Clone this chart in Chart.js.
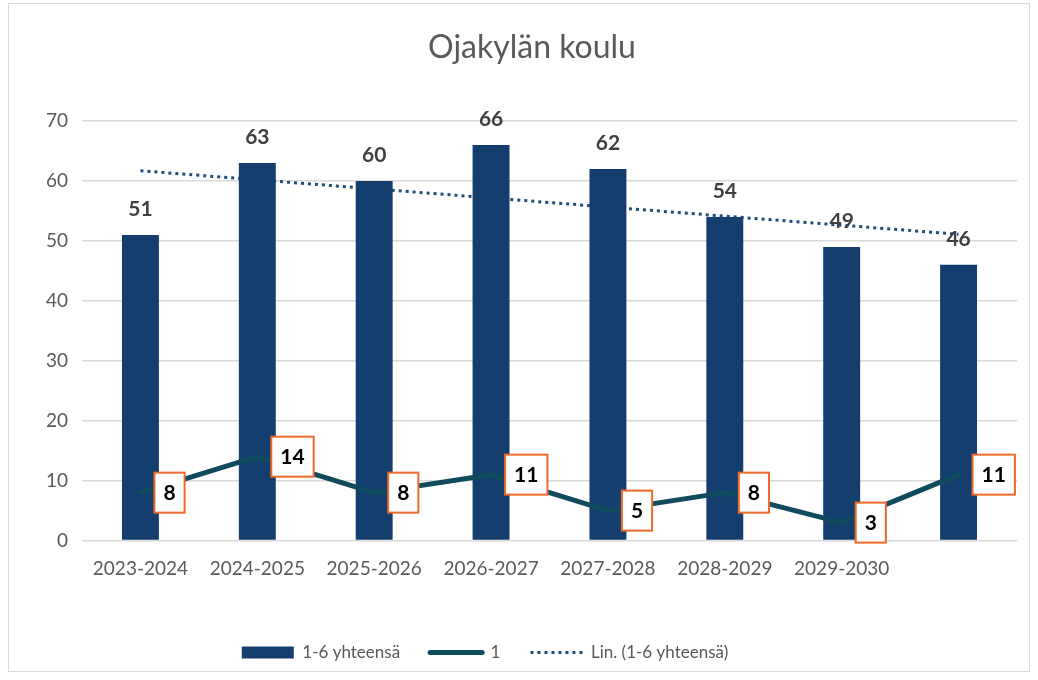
<!DOCTYPE html>
<html>
<head>
<meta charset="utf-8">
<script src="https://cdn.jsdelivr.net/npm/chart.js@4"></script>
<style>
  html, body { margin: 0; padding: 0; background: #fff; }
  #frame { position: absolute; left: 8px; top: 3px; width: 1020px; height: 667px; border: 1px solid #d9d9d9; }
  canvas { display: block; }
</style>
</head>
<body>
<div id="frame"><canvas id="chart" width="1020" height="667"></canvas></div>
<script>
// School years (last category has no label in the original)
const schoolYears = ['2023-2024', '2024-2025', '2025-2026', '2026-2027', '2027-2028', '2028-2029', '2029-2030', ''];
// Pupils in grades 1-6 total
const totals = [51, 63, 60, 66, 62, 54, 49, 46];
// Pupils in grade 1
const firstGrade = [8, 14, 8, 11, 5, 8, 3, 11];
// Linear trend of the totals, end points
const trendValues = [61.7, null, null, null, null, null, null, 51.1];
const yTicks = [0, 10, 20, 30, 40, 50, 60, 70];

const FONT = 'Lato, "Open Sans", sans-serif';
const BAR_COLOR = '#143e6d';
const LINE_COLOR = '#0f4b5c';
const TREND_COLOR = '#1f4e79';
const BOX_COLOR = '#ee6a2a';
const TEXT_GRAY = '#595959';

// Data labels: above bars, boxed to the right of the line points
const valueLabels = {
    id: 'valueLabels',
    afterDatasetsDraw(chart) {
        const ctx = chart.ctx;
        ctx.save();
        ctx.font = 'bold 21px ' + FONT;
        ctx.textAlign = 'center';
        ctx.textBaseline = 'middle';

        ctx.fillStyle = '#404040';
        chart.getDatasetMeta(0).data.forEach((bar, i) => {
            ctx.fillText(String(totals[i]), bar.x, bar.y - 26);
        });

        chart.getDatasetMeta(1).data.forEach((pt, i) => {
            const text = String(firstGrade[i]);
            const w = ctx.measureText(text).width + 18;
            const h = 40;
            const x = pt.x + 14;
            const y = pt.y - h / 2;
            ctx.fillStyle = '#fff';
            ctx.fillRect(x, y, w, h);
            ctx.strokeStyle = BOX_COLOR;
            ctx.lineWidth = 2;
            ctx.strokeRect(x, y, w, h);
            ctx.fillStyle = '#000';
            ctx.fillText(text, x + w / 2, pt.y + 1);
        });
        ctx.restore();
    }
};

// Title sits a bit right and the legend a bit left, like in the original
const blockShift = {
    id: 'blockShift',
    afterLayout(chart) {
        chart.titleBlock.left += 14;
        chart.titleBlock.right += 14;
        chart.legend.left -= 33;
        chart.legend.right -= 33;
    }
};

const ctx = document.getElementById('chart').getContext('2d');

new Chart(ctx, {
    data: {
        labels: schoolYears,
        datasets: [
            {
                type: 'bar',
                label: '1-6 yhteensä',
                data: totals,
                backgroundColor: BAR_COLOR,
                categoryPercentage: 1,
                barPercentage: 0.316,
                order: 2,
            },
            {
                type: 'line',
                label: '1',
                data: firstGrade,
                borderColor: LINE_COLOR,
                borderWidth: 5,
                borderJoinStyle: 'round',
                borderCapStyle: 'round',
                pointRadius: 0,
                tension: 0,
                order: 1,
            },
            {
                type: 'line',
                label: 'Lin. (1-6 yhteensä)',
                data: trendValues,
                spanGaps: true,
                borderColor: TREND_COLOR,
                borderWidth: 3,
                borderDash: [3, 4],
                pointRadius: 0,
                order: 3,
            },
        ],
    },
    options: {
        responsive: false,
        animation: false,
        layout: { padding: { left: 10, right: 12, top: 0, bottom: 0 } },
        scales: {
            x: {
                grid: { display: false },
                border: { display: false },
                ticks: { color: TEXT_GRAY, font: { family: FONT, size: 19 }, padding: 9, maxRotation: 0 },
                afterFit(scale) { scale.height = 73.4; },
            },
            y: {
                min: 0,
                max: 70,
                afterBuildTicks(scale) { scale.ticks = yTicks.map(v => ({ value: v })); },
                grid: { color: '#d9d9d9', lineWidth: 1.5, drawTicks: false },
                border: { display: false },
                ticks: { color: TEXT_GRAY, font: { family: FONT, size: 19 }, padding: 14 },
                afterFit(scale) { scale.width = 63; },
            },
        },
        plugins: {
            tooltip: { enabled: false },
            title: {
                display: true,
                text: 'Ojakylän koulu',
                color: TEXT_GRAY,
                font: { family: FONT, size: 32, weight: 'normal' },
                padding: { top: 24, bottom: 54.6 },
            },
            legend: {
                position: 'bottom',
                labels: {
                    usePointStyle: true,
                    pointStyleWidth: 52,
                    boxWidth: 52,
                    boxHeight: 12,
                    padding: 30,
                    color: TEXT_GRAY,
                    font: { family: FONT, size: 17 },
                    generateLabels() {
                        return [
                            { text: '1-6 yhteensä', pointStyle: 'rect', fillStyle: BAR_COLOR, strokeStyle: BAR_COLOR, lineWidth: 0, fontColor: TEXT_GRAY },
                            { text: '1', pointStyle: 'line', fillStyle: LINE_COLOR, strokeStyle: LINE_COLOR, lineWidth: 5, lineCap: 'round', fontColor: TEXT_GRAY },
                            { text: 'Lin. (1-6 yhteensä)', pointStyle: 'line', fillStyle: TREND_COLOR, strokeStyle: TREND_COLOR, lineWidth: 3, lineDash: [3, 4], fontColor: TEXT_GRAY },
                        ];
                    },
                },
            },
        },
    },
    plugins: [valueLabels, blockShift],
});
</script>
</body>
</html>
